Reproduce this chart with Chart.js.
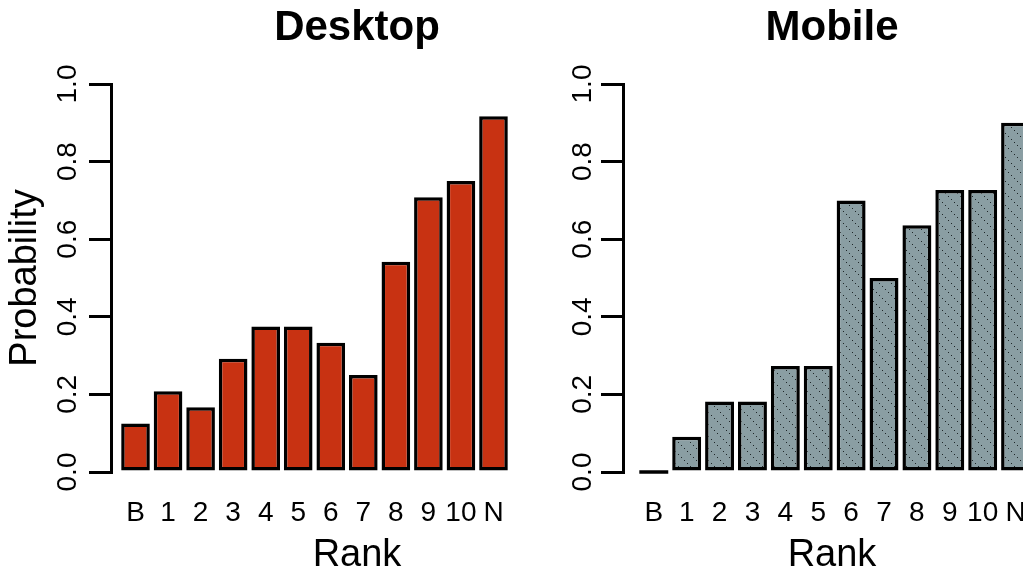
<!DOCTYPE html>
<html><head><meta charset="utf-8">
<script src="https://cdn.jsdelivr.net/npm/chart.js@4.4.1/dist/chart.umd.min.js"></script>
<style>
html,body{margin:0;padding:0;background:#fff;}
body{width:1023px;height:575px;overflow:hidden;position:relative;}
canvas{position:absolute;top:0;}
#c1{left:0;}
#c2{left:512px;}
</style></head><body>
<canvas id="c1" width="603" height="575"></canvas>
<canvas id="c2" width="529" height="575"></canvas>
<script>
const rankLabels = ['B','1','2','3','4','5','6','7','8','9','10','N'];
const desktopValues = [0.125,0.208,0.167,0.292,0.375,0.375,0.333,0.25,0.542,0.708,0.75,0.917];
const mobileValues = [0,0.091,0.182,0.182,0.273,0.273,0.7,0.5,0.636,0.727,0.727,0.9];
const yTicks = [0,0.2,0.4,0.6,0.8,1.0];
const panelTitles = ['Desktop','Mobile'];
const yAxisTitle = 'Probability';
const xAxisTitle = 'Rank';

const FONT = "'Liberation Sans', Arial, Helvetica, sans-serif";

function hatchPattern() {
  const s = 12;
  const c = document.createElement('canvas');
  c.width = s; c.height = s;
  const g = c.getContext('2d');
  g.fillStyle = '#8a9ea3';
  g.fillRect(0, 0, s, s);
  g.fillStyle = '#1f2729';
  for (let k = 1; k < s; k += 3) g.fillRect(k, k, 1, 1);
  return g.createPattern(c, 'repeat');
}

const zeroBarLine = {
  id: 'zeroBarLine',
  afterDatasetsDraw(chart) {
    const meta = chart.getDatasetMeta(0);
    const data = chart.data.datasets[0].data;
    const ctx = chart.ctx;
    meta.data.forEach((bar, i) => {
      if (data[i].y === 0) {
        const p = bar.getProps(['x', 'width', 'base'], true);
        ctx.save();
        ctx.strokeStyle = '#000';
        ctx.lineWidth = 3.5;
        ctx.beginPath();
        ctx.moveTo(p.x - p.width / 2, p.base);
        ctx.lineTo(p.x + p.width / 2, p.base);
        ctx.stroke();
        ctx.restore();
      }
    });
  }
};

function makeChart(id, title, values, fill, cfg) {
  return new Chart(document.getElementById(id), {
    type: 'bar',
    data: {
      datasets: [{
        data: values.map((v, i) => ({ x: i, y: v })),
        backgroundColor: fill,
        borderColor: '#000',
        borderWidth: 3.5,
        borderSkipped: false,
        barPercentage: 0.88,
        categoryPercentage: 1
      }]
    },
    options: {
      responsive: false,
      devicePixelRatio: 1,
      animation: false,
      layout: { padding: 0 },
      plugins: {
        legend: { display: false },
        tooltip: { enabled: false },
        title: {
          display: true, text: title, color: '#000', fullSize: false,
          font: { size: 42, weight: 'bold', family: FONT, lineHeight: 1.2 },
          padding: { top: 3.3, bottom: 30.3 }
        }
      },
      scales: {
        x: {
          type: 'linear', min: cfg.xMin, max: cfg.xMax, offset: false,
          afterBuildTicks: s => { s.ticks = rankLabels.map((_, i) => ({ value: i })); },
          afterFit: s => { s.height = 103; },
          border: { display: false },
          grid: {
            display: true, drawOnChartArea: false, drawTicks: true, offset: false,
            tickLength: 24, tickColor: 'rgba(0,0,0,0)', color: 'rgba(0,0,0,0)'
          },
          ticks: {
            autoSkip: false, maxRotation: 0, minRotation: 0, padding: 0, color: '#000',
            font: { size: 28, family: FONT, lineHeight: 1.2 },
            callback: v => rankLabels[v]
          },
          title: {
            display: true, text: xAxisTitle, color: '#000',
            font: { size: 38, family: FONT, lineHeight: 1 },
            padding: { top: 0, bottom: 0 }
          }
        },
        y: {
          min: 0, max: 1,
          afterBuildTicks: s => { s.ticks = yTicks.map(v => ({ value: v })); },
          afterFit: s => { s.width = 111; },
          border: { display: true, color: '#000', width: 3 },
          grid: {
            display: true, drawOnChartArea: false, drawTicks: true,
            tickLength: 22, tickWidth: 3, tickColor: '#000', color: '#000', lineWidth: 3
          },
          ticks: {
            minRotation: 90, maxRotation: 90, crossAlign: 'center', padding: cfg.yPad,
            color: '#000', font: { size: 28, family: FONT },
            callback: v => v.toFixed(1)
          },
          title: {
            display: cfg.showYTitle, text: yAxisTitle, color: '#000',
            font: { size: 38, family: FONT, lineHeight: 1 },
            padding: { top: 6.7, bottom: 0 }
          }
        }
      }
    },
    plugins: [zeroBarLine]
  });
}

makeChart('c1', panelTitles[0], desktopValues, '#c83212', { xMin: -0.753, xMax: 14.365, yPad: 1, showYTitle: true });
makeChart('c2', panelTitles[1], mobileValues, hatchPattern(), { xMin: -0.936, xMax: 11.773, yPad: -1.5, showYTitle: false });
</script>
</body></html>
